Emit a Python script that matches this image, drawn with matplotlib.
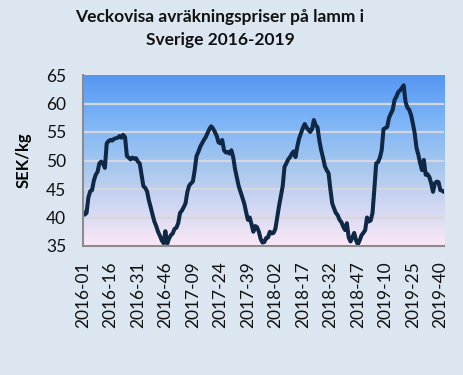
import numpy as np
import matplotlib.pyplot as plt
from matplotlib.colors import LinearSegmentedColormap

plt.rcParams['font.family'] = ['Lato', 'DejaVu Sans']

# veckopriser SEK/kg, en lista per år
pris_2016 = [41.0, 40.5, 40.8, 43.5, 44.6, 44.8, 46.5, 47.5, 48.0, 49.5,
             49.8, 49.5, 48.7, 53.0, 53.4, 53.6, 53.5, 53.8, 53.9, 54.0,
             54.3, 54.0, 54.5, 54.1, 50.8, 50.5, 50.2, 50.5, 50.3, 50.4,
             49.8, 49.5, 47.5, 45.5, 45.2, 44.6, 43.0, 41.8, 40.5, 39.3,
             38.5, 37.5, 36.8, 36.0, 35.5, 37.6, 35.4, 36.3, 36.9, 37.2,
             38.0, 38.2]
pris_2017 = [39.0, 40.8, 41.2, 41.8, 42.5, 44.5, 45.6, 46.0, 46.3, 48.3,
             50.8, 51.5, 52.4, 53.0, 53.6, 54.1, 54.8, 55.5, 56.0, 55.6,
             55.0, 54.3, 53.2, 53.0, 53.6, 51.8, 51.4, 51.5, 51.2, 51.8,
             50.6, 48.5, 47.0, 45.5, 44.5, 43.5, 42.5, 41.0, 39.6, 40.0,
             38.8, 37.5, 38.5, 38.3, 37.5, 36.2, 35.6, 35.7, 36.4, 36.5,
             37.5, 37.2]
pris_2018 = [37.3, 38.0, 40.0, 42.0, 43.8, 45.5, 48.9, 49.5, 50.2, 50.6,
             51.2, 51.6, 50.6, 52.5, 53.9, 54.8, 55.7, 56.4, 55.8, 55.4,
             55.0, 55.5, 57.1, 56.2, 55.8, 53.5, 51.8, 50.5, 49.0, 48.3,
             47.8, 45.0, 42.5, 41.6, 40.8, 40.4, 39.6, 39.2, 38.4, 37.8,
             39.0, 36.5, 35.8, 36.5, 37.3, 36.0, 35.3, 36.0, 36.9, 37.3,
             37.8, 40.0]
pris_2019 = [39.3, 39.5, 40.8, 45.0, 49.5, 49.7, 50.5, 51.8, 55.5, 55.7,
             55.9, 57.5, 58.2, 58.9, 60.6, 61.2, 62.0, 62.3, 62.7, 63.2,
             60.3, 59.3, 58.9, 58.0, 56.5, 54.8, 52.2, 51.0, 49.5, 48.3,
             50.1, 47.5, 47.6, 47.1, 46.0, 44.5, 46.0, 46.3, 46.2, 44.8,
             44.7, 44.5]

ar = [2016, 2017, 2018, 2019]
serier = [pris_2016, pris_2017, pris_2018, pris_2019]

veckor = []
priser = []
for a, s in zip(ar, serier):
    for v, p in enumerate(s):
        veckor.append("{}-{:02d}".format(a, v + 1))
        priser.append(p)

x = np.arange(len(priser))

fig = plt.figure(figsize=(4.63, 3.75), dpi=100)
fig.patch.set_facecolor('#dce6f1')
ax = fig.add_axes([0.179, 0.344, 0.78, 0.456])

# bakgrund med gradient
cmap = LinearSegmentedColormap.from_list(
    'bg', [(0.0, '#fbe8f6'), (0.45, '#a9c8ee'), (0.75, '#7ab3f7'), (1.0, '#5596f3')])
grad = np.linspace(0, 1, 256).reshape(-1, 1)
ax.imshow(grad, cmap=cmap, origin='lower', aspect='auto',
          extent=[0, len(priser) - 1, 35, 65], zorder=0)

ax.plot(x, priser, color='#0f2846', linewidth=2.9, zorder=3,
        solid_joinstyle='round')

ax.set_xlim(0, len(priser) - 1)
ax.set_ylim(35, 65)
ax.set_yticks(range(35, 66, 5))
ax.set_xticks(x[::15])
ax.set_xticklabels(veckor[::15], rotation=90)
ax.tick_params(axis='both', length=0, labelsize=12.5, colors='#111111')
ax.tick_params(axis='y', pad=12)
ax.tick_params(axis='x', pad=11)

# stödlinjer
for g in range(40, 61, 5):
    ax.axhline(g, color='#d6d6de', linewidth=1.6, zorder=1)

for s in ['top', 'right']:
    ax.spines[s].set_visible(False)
for s in ['left', 'bottom']:
    ax.spines[s].set_color('#8c8c8c')
    ax.spines[s].set_linewidth(1.5)
    ax.spines[s].set_zorder(4)

ax.set_ylabel('SEK/kg', fontsize=12, fontweight='bold', labelpad=10)

fig.text(0.475, 0.975, 'Veckovisa avräkningspriser på lamm i\nSverige 2016-2019',
         ha='center', va='top', fontsize=12.5, fontweight='bold',
         linespacing=1.5, color='#111111')

fig.savefig('out.png', dpi=100, facecolor=fig.get_facecolor())
